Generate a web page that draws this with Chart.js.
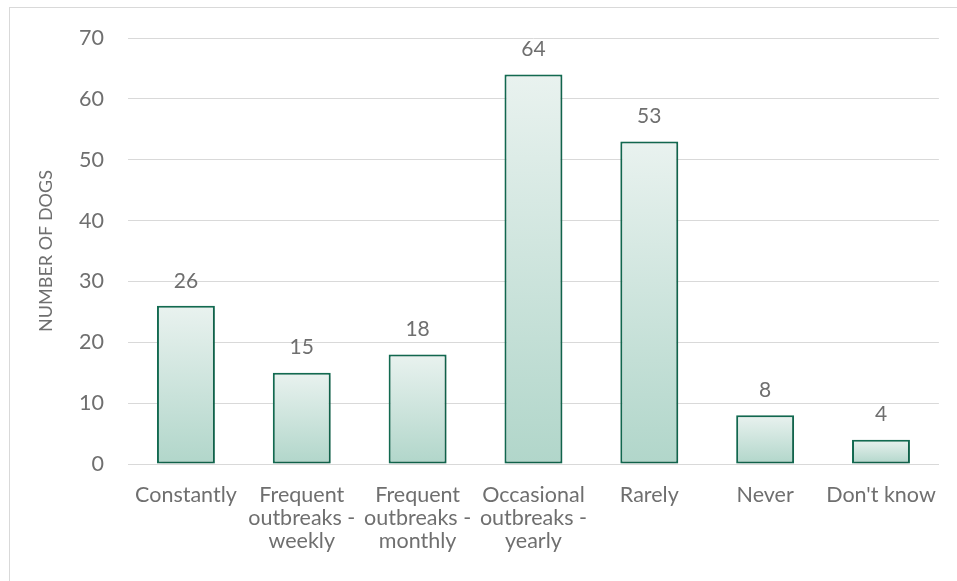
<!DOCTYPE html>
<html>
<head>
<meta charset="utf-8">
<script src="https://cdn.jsdelivr.net/npm/chart.js@4"></script>
<style>
  html, body { margin: 0; padding: 0; background: #fff; }
  #wrap { position: relative; width: 957px; height: 581px; }
  #frame { position: absolute; left: 9px; top: 7px; width: 960px; height: 590px; border: 1px solid #d9d9d9; box-sizing: border-box; }
  canvas { position: absolute; left: 0; top: 0; }
</style>
</head>
<body>
<div id="wrap">
  <div id="frame"></div>
  <canvas id="c" width="957" height="581"></canvas>
</div>
<script>
const categories = [
  "Constantly",
  ["Frequent", "outbreaks -", "weekly"],
  ["Frequent", "outbreaks -", "monthly"],
  ["Occasional", "outbreaks -", "yearly"],
  "Rarely",
  "Never",
  "Don't know"
];
const values = [26, 15, 18, 64, 53, 8, 4];
const yTicks = [0, 10, 20, 30, 40, 50, 60, 70];
const yTitle = "NUMBER OF DOGS";

const FONT = "Lato, 'Open Sans', sans-serif";
const TEXT = "#6f6f6f";

function barGradient(ctx) {
  const chart = ctx.chart;
  const ys = chart.scales && chart.scales.y;
  if (!ys || ctx.dataIndex == null) return "#cfe5de";
  const top = ys.getPixelForValue(ctx.raw);
  const bot = ys.getPixelForValue(0);
  if (!isFinite(top) || !isFinite(bot) || top === bot) return "#cfe5de";
  const g = chart.ctx.createLinearGradient(0, top, 0, bot);
  g.addColorStop(0, "#e9f2ef");
  g.addColorStop(1, "#b1d6ca");
  return g;
}

const labelPlugin = {
  id: "valueLabels",
  afterDatasetsDraw(chart) {
    const c = chart.ctx;
    const meta = chart.getDatasetMeta(0);
    c.save();
    c.font = "21px " + FONT;
    c.fillStyle = TEXT;
    c.textAlign = "center";
    c.textBaseline = "middle";
    meta.data.forEach((el, i) => {
      c.fillText(String(values[i]), el.x, el.y - 25);
    });
    c.restore();
  }
};

const shadowPlugin = {
  id: "barShadow",
  beforeDatasetsDraw(chart) {
    const c = chart.ctx;
    c.save();
    c.shadowColor = "rgba(0,0,0,0.18)";
    c.shadowBlur = 4;
    c.shadowOffsetX = 1;
    c.shadowOffsetY = 1;
  },
  afterDatasetsDraw(chart) {
    chart.ctx.restore();
  }
};

new Chart(document.getElementById("c"), {
  type: "bar",
  data: {
    labels: categories,
    datasets: [{
      data: values,
      backgroundColor: barGradient,
      borderColor: "#126c52",
      borderWidth: 2,
      borderSkipped: false,
      categoryPercentage: 1,
      barPercentage: 0.5
    }]
  },
  options: {
    responsive: false,
    animation: false,
    devicePixelRatio: 1,
    layout: { padding: { left: 0, right: 17, top: 38, bottom: 0 } },
    plugins: {
      legend: { display: false },
      tooltip: { enabled: false }
    },
    scales: {
      x: {
        grid: { display: false, drawTicks: false },
        border: { display: true, color: "#d9d9d9", width: 1 },
        ticks: {
          color: TEXT,
          font: { family: FONT, size: 21.5, lineHeight: "23px" },
          padding: 20,
          maxRotation: 0,
          autoSkip: false
        },
        afterFit(s) { s.height = 117; }
      },
      y: {
        min: 0,
        max: 70,
        afterBuildTicks(s) { s.ticks = yTicks.map(v => ({ value: v })); },
        grid: { color: "#d9d9d9", lineWidth: 1, drawTicks: false },
        border: { display: false },
        ticks: {
          color: TEXT,
          font: { family: FONT, size: 21.5 },
          padding: 24
        },
        title: {
          display: true,
          text: yTitle,
          color: TEXT,
          font: { family: FONT, size: 18 },
          padding: { top: 35, bottom: 0 }
        },
        afterFit(s) { s.width = 128; }
      }
    }
  },
  plugins: [shadowPlugin, labelPlugin]
});
</script>
</body>
</html>
